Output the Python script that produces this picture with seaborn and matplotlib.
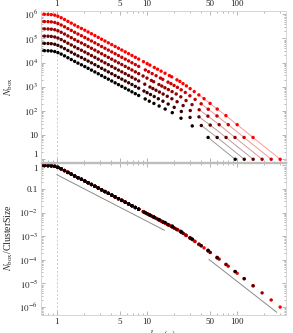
import numpy as np
import pandas as pd
import matplotlib
matplotlib.use("Agg")
import matplotlib.pyplot as plt
import seaborn as sns
from matplotlib.ticker import LogLocator, NullFormatter

sns.set_style("ticks")
plt.rcParams['font.family'] = ['Liberation Serif', 'DejaVu Serif']
plt.rcParams['mathtext.fontset'] = 'stix'

# cluster sizes and the linear extent of each cluster (largest box)
cluster_size = [31250, 62500, 125000, 250000, 500000, 1000000]
box_max = [96, 121, 152, 191, 241, 303]
series_colors = ['#000000', '#330000', '#660000', '#990000', '#cc0000', '#ff0000']

# small boxes: every cluster falls on the same curve N_box/ClusterSize
box_small = [0.67, 0.73, 0.80, 0.87, 0.95, 1.03, 1.12, 1.22, 1.33, 1.45,
             1.58, 1.72, 1.88, 2.05, 2.23, 2.43, 2.65, 2.89, 3.15, 3.43,
             3.74, 4.08, 4.45, 4.85, 5.28, 5.76, 6.28, 6.84, 7.46, 8.13]
frac_small = [1.0, 1.0, 0.99, 0.97, 0.92, 0.83, 0.72, 0.61, 0.51, 0.43,
              0.36, 0.305, 0.26, 0.22, 0.186, 0.157, 0.132, 0.111, 0.093, 0.0786,
              0.0661, 0.0556, 0.0467, 0.0393, 0.0332, 0.0279, 0.0235, 0.0198, 0.0166, 0.0140]

# large boxes: box = box_max / divisor, counts per cluster
divisors = [1, 2, 3, 4, 5, 6, 7, 8, 9, 10, 11, 12, 13, 14, 16, 17, 19, 21, 23, 25, 28, 30, 33]
counts_31k = [1, 8, 24, 50, 85, 120, 160, 205, 254, 314]
counts_62k = [1, 8, 25, 54, 95, 141, 193, 253, 320, 395, 478, 569, 667]
counts_125k = [1, 8, 26, 57, 104, 167, 241, 319, 405, 500, 605, 720, 846, 980, 1281]
counts_250k = [1, 8, 27, 61, 112, 183, 270, 384, 504, 630, 767, 913, 1072, 1243,
               1622, 1830, 2290, 2793]
counts_500k = [1, 8, 27, 62, 118, 198, 300, 425, 582, 750, 945, 1135, 1350, 1560,
               2040, 2300, 2876, 3510, 4211, 4977]
counts_1m = [1, 8, 27, 64, 120, 205, 322, 461, 635, 840, 1090, 1350, 1670, 1940,
             2580, 2900, 3640, 4440, 5330, 6300, 7900, 9070, 10980]
tail_counts = [counts_31k, counts_62k, counts_125k, counts_250k, counts_500k, counts_1m]

# guide lines in the lower panel
guide_box_a = [1.0, 15.7]
guide_frac_a = [0.41, 1.8e-3]
guide_box_b = [49, 278]
guide_frac_b = [1.05e-4, 6.0e-7]

frames = []
for M, L, cnt in zip(cluster_size, box_max, tail_counts):
    tail_box = [L / d for d in divisors[:len(cnt)]]
    frames.append(pd.DataFrame({
        "box": box_small + tail_box,
        "count": [f * M for f in frac_small] + cnt,
        "size": M,
    }))
df = pd.concat(frames, ignore_index=True)
df["frac"] = df["count"] / df["size"]
pal = dict(zip(cluster_size, series_colors))

fig = plt.figure(figsize=(2.93, 3.33), dpi=100)
ax1 = fig.add_axes([0.139, 0.5126, 0.836, 0.4544])
ax2 = fig.add_axes([0.139, 0.0526, 0.836, 0.458])

for ax in (ax1, ax2):
    ax.set_xscale('log')
    ax.set_yscale('log')
    ax.axvline(1, color='#cccccc', ls=(0, (2, 2)), lw=0.7, zorder=0)

# upper panel
for M, c in zip(cluster_size, series_colors):
    sub = df[(df["size"] == M) & (df["box"] >= 35)]
    sns.lineplot(data=sub, x="box", y="count", color=c, alpha=0.4, lw=0.7,
                 estimator=None, sort=True, ax=ax1, legend=False, zorder=1)
sns.scatterplot(data=df, x="box", y="count", hue="size", palette=pal, s=6,
                linewidth=0, legend=False, ax=ax1, zorder=2)

# lower panel, black drawn last
df_low = df.sort_values("size", ascending=False, kind="stable")
sns.lineplot(x=guide_box_a, y=guide_frac_a, color='#8a8a8a', lw=0.7, ax=ax2)
sns.lineplot(x=guide_box_b, y=guide_frac_b, color='#8a8a8a', lw=0.7, ax=ax2)
sns.scatterplot(data=df_low, x="box", y="frac", hue="size", palette=pal, s=6,
                linewidth=0, legend=False, ax=ax2, zorder=2)

for ax in (ax1, ax2):
    ax.set_xlim(0.664, 349)
    ax.set_xticks([1, 5, 10, 50, 100])
    ax.set_xticklabels(['1', '5', '10', '50', '100'])
    ax.xaxis.set_minor_locator(LogLocator(base=10, subs=np.arange(2, 10) * 1.0, numticks=20))
    ax.xaxis.set_minor_formatter(NullFormatter())
    ax.yaxis.set_minor_locator(LogLocator(base=10, subs=np.arange(2, 10) * 1.0, numticks=20))
    ax.yaxis.set_minor_formatter(NullFormatter())
    ax.tick_params(which='both', direction='in', top=True, right=True,
                   color='#9a9a9a', width=0.5, labelsize=6.5, pad=2)
    ax.tick_params(which='major', length=3)
    ax.tick_params(which='minor', length=1.5)
    for sp in ax.spines.values():
        sp.set_color('#d6d6d6')
        sp.set_linewidth(0.7)
    ax.set_xlabel('')

# the shared edge between the two panels is a heavier grey line
ax1.spines['bottom'].set_color('#bdbdbd')
ax1.spines['bottom'].set_linewidth(1.0)
ax2.spines['top'].set_color('#bdbdbd')
ax2.spines['top'].set_linewidth(1.0)

ax1.set_ylim(0.75, 1.37e6)
ax1.set_yticks([1, 10, 1e2, 1e3, 1e4, 1e5, 1e6])
ax1.set_yticklabels(['1', '10', '$10^{2}$', '$10^{3}$', '$10^{4}$', '$10^{5}$', '$10^{6}$'])
ax1.tick_params(labelbottom=False, labeltop=True)
ax1.get_yticklabels()[0].set_va('bottom')
ax1.set_ylabel('$N_{\\mathrm{box}}$', fontsize=7)
ax1.yaxis.set_label_coords(-0.105, 0.5)

ax2.set_ylim(4.4e-7, 1.28)
ax2.set_yticks([1, 0.1, 1e-2, 1e-3, 1e-4, 1e-5, 1e-6])
ax2.set_yticklabels(['1', '0.1', '$10^{-2}$', '$10^{-3}$', '$10^{-4}$', '$10^{-5}$', '$10^{-6}$'])
ax2.get_yticklabels()[0].set_va('top')
ax2.set_ylabel('$N_{\\mathrm{box}}$/ClusterSize', fontsize=7)
ax2.yaxis.set_label_coords(-0.105, 0.51)

fig.text(0.555, 0.014, '$l_{\\mathrm{box}}\\,(\\mathrm{a})$', fontsize=7, ha='center', va='top')

fig.savefig('out.png', dpi=100)
